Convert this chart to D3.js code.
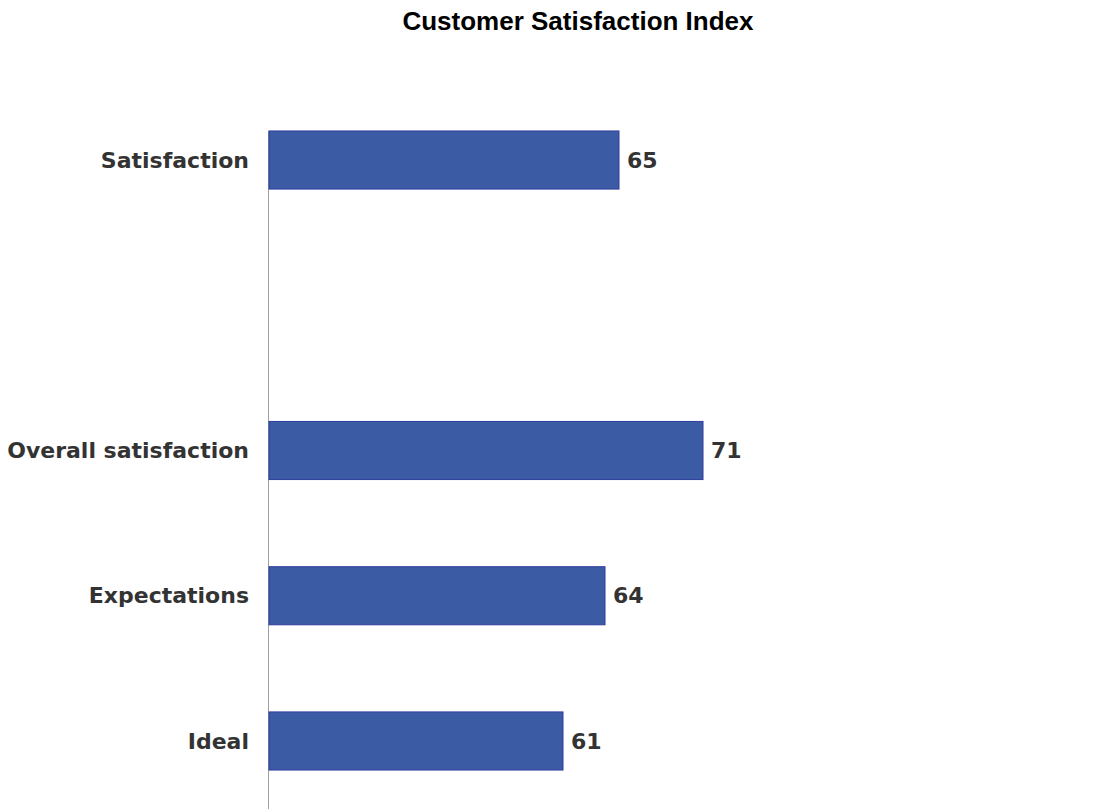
<!DOCTYPE html>
<html>
<head>
<meta charset="utf-8">
<script src="https://cdn.jsdelivr.net/npm/d3@7"></script>
<style>
  html, body { margin: 0; padding: 0; background: #fff; }
</style>
</head>
<body>
<div id="chart"></div>
<script>
// data
const categories = ['Satisfaction', '', 'Overall satisfaction', 'Expectations', 'Ideal'];
const values = [65, null, 71, 64, 61];
const title = 'Customer Satisfaction Index';

const width = 1098, height = 809;

const svg = d3.select('#chart').append('svg')
  .attr('width', width)
  .attr('height', height);

svg.append('text')
  .attr('x', 578)
  .attr('y', 30)
  .attr('text-anchor', 'middle')
  .style('font-family', '"Liberation Sans", Arial, sans-serif')
  .style('font-weight', 'bold')
  .style('font-size', '26px')
  .style('fill', '#000')
  .text(title);

const x = d3.scaleLinear().domain([40, 100]).range([269, 1109]);
const y = d3.scaleBand().domain(categories).range([87.4, 813.6])
  .paddingInner(0.6).paddingOuter(0.3);

const rows = categories.map((c, i) => ({ cat: c, value: values[i] }));
const bars = rows.filter(d => d.value != null);

// axis line
svg.append('line')
  .attr('x1', x(40) - 0.5).attr('x2', x(40) - 0.5)
  .attr('y1', y(categories[0])).attr('y2', height)
  .attr('stroke', '#a0a0a0').attr('stroke-width', 1);

svg.append('g').selectAll('rect').data(bars).enter()
  .append('rect')
  .attr('x', x(40))
  .attr('y', d => y(d.cat))
  .attr('width', d => x(d.value) - x(40))
  .attr('height', y.bandwidth())
  .attr('fill', '#3c5ba5')
  .attr('stroke', '#2f3c9e')
  .attr('stroke-width', 1);

const labelFont = '"DejaVu Sans", Verdana, sans-serif';

svg.append('g').selectAll('text').data(rows.filter(d => d.cat)).enter()
  .append('text')
  .attr('x', 249)
  .attr('y', d => y(d.cat) + y.bandwidth() / 2)
  .attr('dy', '.35em')
  .attr('text-anchor', 'end')
  .style('font-family', labelFont)
  .style('font-weight', 'bold')
  .style('font-size', '22px')
  .style('fill', '#333')
  .text(d => d.cat);

svg.append('g').selectAll('text').data(bars).enter()
  .append('text')
  .attr('x', d => x(d.value) + 8)
  .attr('y', d => y(d.cat) + y.bandwidth() / 2)
  .attr('dy', '.35em')
  .style('font-family', labelFont)
  .style('font-weight', 'bold')
  .style('font-size', '22px')
  .style('fill', '#333')
  .text(d => d.value);
</script>
</body>
</html>
